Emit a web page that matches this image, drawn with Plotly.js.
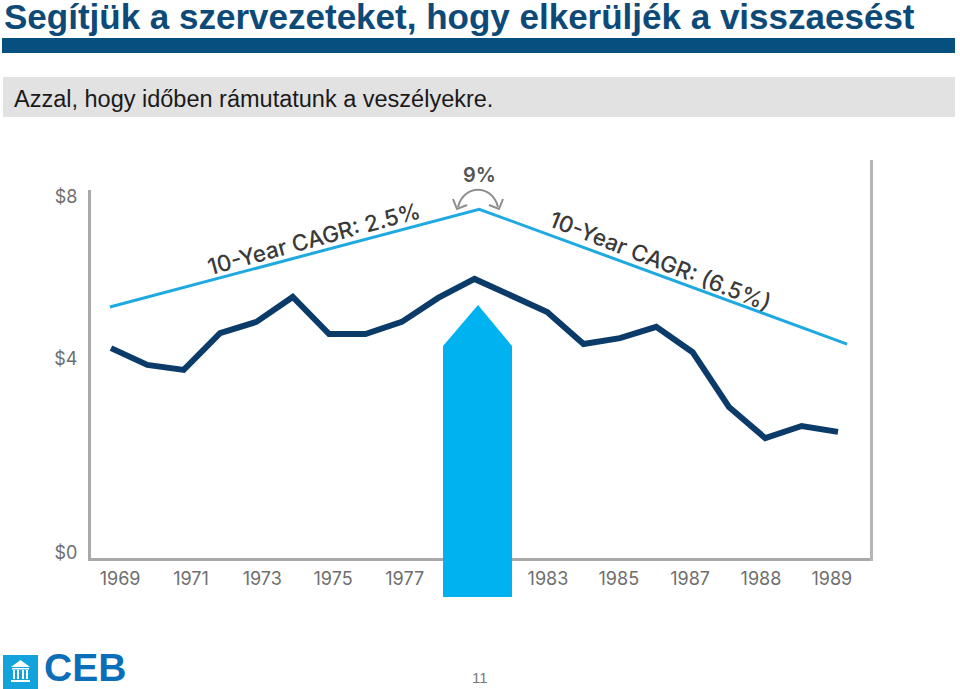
<!DOCTYPE html>
<html>
<head>
<meta charset="utf-8">
<script src="https://cdn.plot.ly/plotly-3.0.1.min.js"></script>
<style>
  html, body { margin: 0; padding: 0; background: #fff; }
  #chart { width: 960px; height: 689px; }
</style>
</head>
<body>
<div id="chart"></div>
<script>
// Values
const years = [1969, 1970, 1971, 1972, 1973, 1974, 1975, 1976, 1977, 1978, 1979,
  1980, 1981, 1982, 1983, 1984, 1985, 1986, 1987, 1988, 1989];
const values = [4.66, 4.29, 4.18, 4.99, 5.24, 5.79, 4.97, 4.97, 5.24, 5.77, 6.19,
  5.81, 5.46, 4.75, 4.88, 5.13, 4.57, 3.36, 2.67, 2.94, 2.81];
const trendYears = [1968.97, 1979.13, 1989.25];
const trendValues = [5.57, 7.73, 4.75];

// The source slide prints its labels slightly off its own gridding, so tick
// spots and their texts are listed separately
const xTickSpots = [1969.25, 1971.2, 1973.16, 1975.11, 1977.08, 1981.02, 1982.97, 1984.93, 1986.88, 1988.83];
const xTickLabels = ['1969', '1971', '1973', '1975', '1977', '1983', '1985', '1987', '1988', '1989'];
const yTickSpots = [0.13, 4.42, 8];
const yTickLabels = ['$0', '$4', '$8'];

const titleText = 'Segítjük a szervezeteket, hogy elkerüljék a visszaesést';
const subtitleText = 'Azzal, hogy időben rámutatunk a veszélyekre.';

const W = 960;
const H = 689;

// page pixels to paper fractions (the plot has no margins)
const px = x => x / W;
const py = y => 1 - y / H;

function rect(x0, y0, x1, y1, color) {
  return {
    type: 'rect', xref: 'paper', yref: 'paper', layer: 'above',
    x0: px(x0), x1: px(x1), y0: py(y0), y1: py(y1),
    fillcolor: color, line: { width: 0 }
  };
}

function path(points, opts) {
  const d = points.map((p, i) => (i ? 'L' : 'M') + px(p[0]) + ',' + py(p[1])).join(' ');
  return Object.assign({
    type: 'path', xref: 'paper', yref: 'paper', layer: 'above', path: d, line: { width: 0 }
  }, opts);
}

function curve(p0, c0, c1, p1, color) {
  const f = p => px(p[0]) + ',' + py(p[1]);
  return {
    type: 'path', xref: 'paper', yref: 'paper', layer: 'above',
    path: `M${f(p0)} C${f(c0)} ${f(c1)} ${f(p1)}`,
    line: { color: color, width: 2 }
  };
}

const shapes = [
  // header bands
  rect(2, 38, 955, 53, '#06507f'),
  rect(3, 77, 955, 117, '#e2e2e2'),
  // chart frame
  rect(88, 190, 91, 560, '#a9a9a9'),
  rect(88, 558, 871, 561, '#a9a9a9'),
  rect(870, 160, 873, 561, '#b5b5b5'),
  // highlight arrow
  path([[478, 305], [512, 346], [512, 597], [443, 597], [443, 346]],
    { fillcolor: '#00b2ef', line: { width: 0 } }),
  // 9% swing arrows
  curve([458, 207], [464, 184], [492, 184], [498, 207], '#8e8e8e'),
  path([[453, 199], [457, 209], [467, 205]], { line: { color: '#8e8e8e', width: 2 } }),
  path([[503, 199], [499, 209], [489, 205]], { line: { color: '#8e8e8e', width: 2 } }),
  // logo square and building
  rect(3, 655, 38, 689, '#12a3dd'),
  path([[20.5, 660], [30, 667], [11, 667]], { fillcolor: '#fff' }),
  rect(12, 668, 29, 669.5, '#fff'),
  rect(13, 670, 15, 679, '#fff'),
  rect(17, 670, 19, 679, '#fff'),
  rect(22, 670, 24, 679, '#fff'),
  rect(26, 670, 28, 679, '#fff'),
  rect(11, 680, 30, 682, '#fff')
];

const annotations = [
  {
    text: '<b>' + titleText + '</b>', x: px(3), y: py(17), xanchor: 'left',
    font: { family: 'Liberation Sans', size: 35, color: '#0d4a78' }
  },
  {
    text: subtitleText, x: px(13), y: py(99), xanchor: 'left',
    font: { family: 'Liberation Sans', size: 23.5, color: '#1a1a1a' }
  },
  {
    text: '10-Year CAGR: 2.5%', x: px(313), y: py(238), textangle: -15.2,
    font: { family: 'Inter', size: 22.5, weight: 500, color: '#3a3a3a' }
  },
  {
    text: '10-Year CAGR: (6.5%)', x: px(660), y: py(260), textangle: 21.4,
    font: { family: 'Inter', size: 22.5, weight: 500, color: '#3a3a3a' }
  },
  {
    text: '9%', x: px(479), y: py(175),
    font: { family: 'Inter', size: 20, weight: 600, color: '#555' }
  },
  {
    text: '11', x: px(480), y: py(677),
    font: { family: 'Liberation Sans', size: 15, color: '#777' }
  },
  {
    text: '<b>CEB</b>', x: px(43), y: py(667), xanchor: 'left',
    font: { family: 'Liberation Sans', size: 39, color: '#0a6fb8' }
  }
].map(a => Object.assign({ xref: 'paper', yref: 'paper', showarrow: false, borderpad: 0, yanchor: 'middle', xanchor: 'center' }, a));

const traces = [
  {
    type: 'scatter', mode: 'lines', x: trendYears, y: trendValues,
    line: { color: '#1fa9e1', width: 3 }, hoverinfo: 'skip'
  },
  {
    type: 'scatter', mode: 'lines', x: years, y: values,
    line: { color: '#0b3c69', width: 6 }, hoverinfo: 'skip'
  }
];

const layout = {
  width: W,
  height: H,
  margin: { l: 0, r: 0, t: 0, b: 0 },
  paper_bgcolor: '#fff',
  plot_bgcolor: '#fff',
  showlegend: false,
  xaxis: {
    domain: [px(89), px(871)],
    anchor: 'y',
    range: [1969 - 22 / 36.35, 1969 + (871 - 111) / 36.35],
    tickmode: 'array',
    tickvals: xTickSpots,
    ticktext: xTickLabels,
    tickangle: 0,
    ticks: 'outside',
    ticklen: 3,
    tickcolor: 'rgba(0,0,0,0)',
    showgrid: false,
    zeroline: false,
    tickfont: { family: 'Inter', size: 18, color: '#6e6e6e' }
  },
  yaxis: {
    domain: [py(559), py(160)],
    anchor: 'x',
    range: [0, 399 / 45.25],
    tickmode: 'array',
    tickvals: yTickSpots,
    ticktext: yTickLabels,
    ticks: 'outside',
    ticklen: 7,
    tickcolor: 'rgba(0,0,0,0)',
    showgrid: false,
    zeroline: false,
    tickfont: { family: 'Inter', size: 18, color: '#6e6e6e' }
  },
  shapes: shapes,
  annotations: annotations
};

Plotly.newPlot('chart', traces, layout, { displayModeBar: false, staticPlot: true });
</script>
</body>
</html>
